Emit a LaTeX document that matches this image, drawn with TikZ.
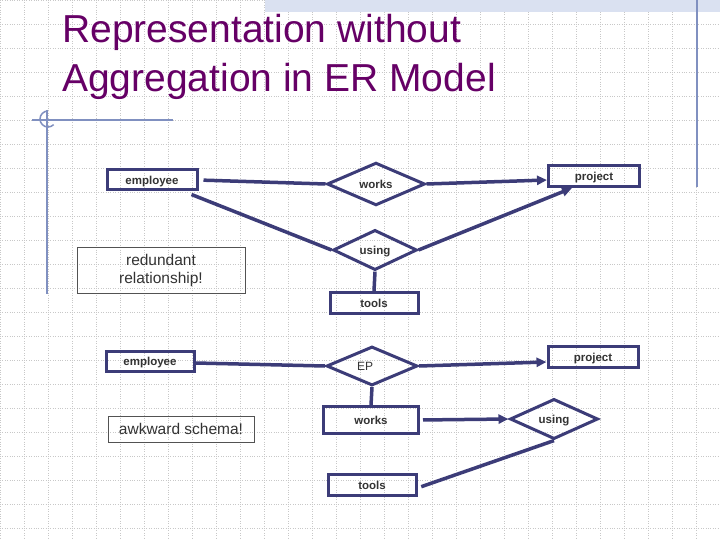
\documentclass[tikz,border=0pt]{standalone}
\usepackage{fontspec}
\setmainfont{Liberation Sans}
\usetikzlibrary{shapes.geometric,arrows.meta}
\definecolor{navy}{HTML}{3C3C78}
\definecolor{labgray}{HTML}{333333}
\definecolor{titlec}{HTML}{660066}
\definecolor{deco}{HTML}{8090C0}
\definecolor{band}{HTML}{DAE1F1}
\definecolor{gridc}{HTML}{C8C8C8}
\begin{document}
\begin{tikzpicture}[x=1pt,y=-1pt,
  ent/.style={draw=navy,line width=3pt,inner sep=0pt,text=labgray,
    text height=9pt,text depth=0.5pt,
    font=\fontsize{11.5}{12}\selectfont\bfseries},
  rel/.style={diamond,draw=navy,line width=3pt,inner sep=0pt,text=labgray,
    text height=9pt,text depth=0.5pt,
    font=\fontsize{11.5}{12}\selectfont\bfseries},
  note/.style={draw=labgray!85,line width=0.8pt,inner sep=0pt,align=center,
    text=labgray,font=\fontsize{15.5}{18}\selectfont},
  conn/.style={draw=navy,line width=3.5pt},
  arr/.style={conn,-{Triangle[length=10pt,width=9pt]}},
  gridline/.style={draw=gridc,line width=0.7pt,dash pattern=on 0.8pt off 1.6pt},
  decoline/.style={draw=deco,line width=1.5pt},
  titletext/.style={anchor=base west,inner sep=0pt,text=titlec,
    font=\fontsize{39}{47}\selectfont}
]
\useasboundingbox (0,0) rectangle (720,540);
\fill[white] (0,0) rectangle (720,540);
\foreach \i in {0,24,...,720} \draw[gridline] (\i,0) -- (\i,540);
\foreach \j in {0,24,...,528} \draw[gridline] (0,\j) -- (720,\j);
\fill[band] (265,0) rectangle (720,12);

% decorations
\draw[decoline] (32,120) -- (173,120);
\draw[decoline] (47,110) -- (47,294);
\draw[decoline] (48,111) arc[start angle=-90,end angle=-315,radius=8];
\draw[decoline] (697,0) -- (697,187);

% title
\node[titletext] (title1) at (62,43) {Representation without};
\node[titletext] (title2) at (62,92) {Aggregation in ER Model};

% top diagram
\node[ent,minimum width=90pt,minimum height=20pt] (emp1) at (152,180) {employee};
\node[rel,minimum width=98pt,minimum height=40pt] (works1) at (376,184) {works};
\node[rel,minimum width=84pt,minimum height=40pt] (using1) at (375,250) {using};
\node[ent,minimum width=88pt,minimum height=21pt] (tools1) at (374,303) {tools};
\node[ent,minimum width=91pt,minimum height=21pt] (proj1) at (594,176) {project};
\node[note,minimum width=168pt,minimum height=46pt] (red) at (161,270) {redundant\\relationship!};

\draw[conn,shorten <=5pt] (emp1.east) -- (works1.west);
\draw[conn] ([xshift=-7pt,yshift=-3pt]emp1.south east) -- (using1.west);
\draw[conn] (using1.south) -- (tools1.north);
\draw[arr] (works1.east) -- ([yshift=-4pt]proj1.west);
\draw[arr] (using1.east) -- ([xshift=-22pt]proj1.south);

% bottom diagram
\node[ent,minimum width=88pt,minimum height=20pt] (emp2) at (150,361) {employee};
\node[rel,minimum width=91pt,minimum height=39pt,font=\fontsize{12}{12}\selectfont] (ep) at (372,366) {\hspace*{-14pt}EP};
\node[ent,minimum width=95pt,minimum height=27pt] (works2) at (371,420) {works};
\node[note,minimum width=146pt,minimum height=26pt] (awk) at (181,429) {awkward schema!};
\node[ent,minimum width=88pt,minimum height=21pt] (tools2) at (372,485) {tools};
\node[ent,minimum width=90pt,minimum height=21pt] (proj2) at (593,357) {project};
\node[rel,minimum width=88pt,minimum height=40pt] (using2) at (554,419) {using};

\draw[conn] ([yshift=-2pt]emp2.east) -- (ep.west);
\draw[conn] (ep.south) -- (works2.north);
\draw[arr] (ep.east) -- ([yshift=-5pt]proj2.west);
\draw[arr,shorten <=3pt] (works2.east) -- (using2.west);
\draw[conn,shorten <=4pt] ([yshift=-3pt]tools2.east) -- (using2.south);
\end{tikzpicture}
\end{document}
